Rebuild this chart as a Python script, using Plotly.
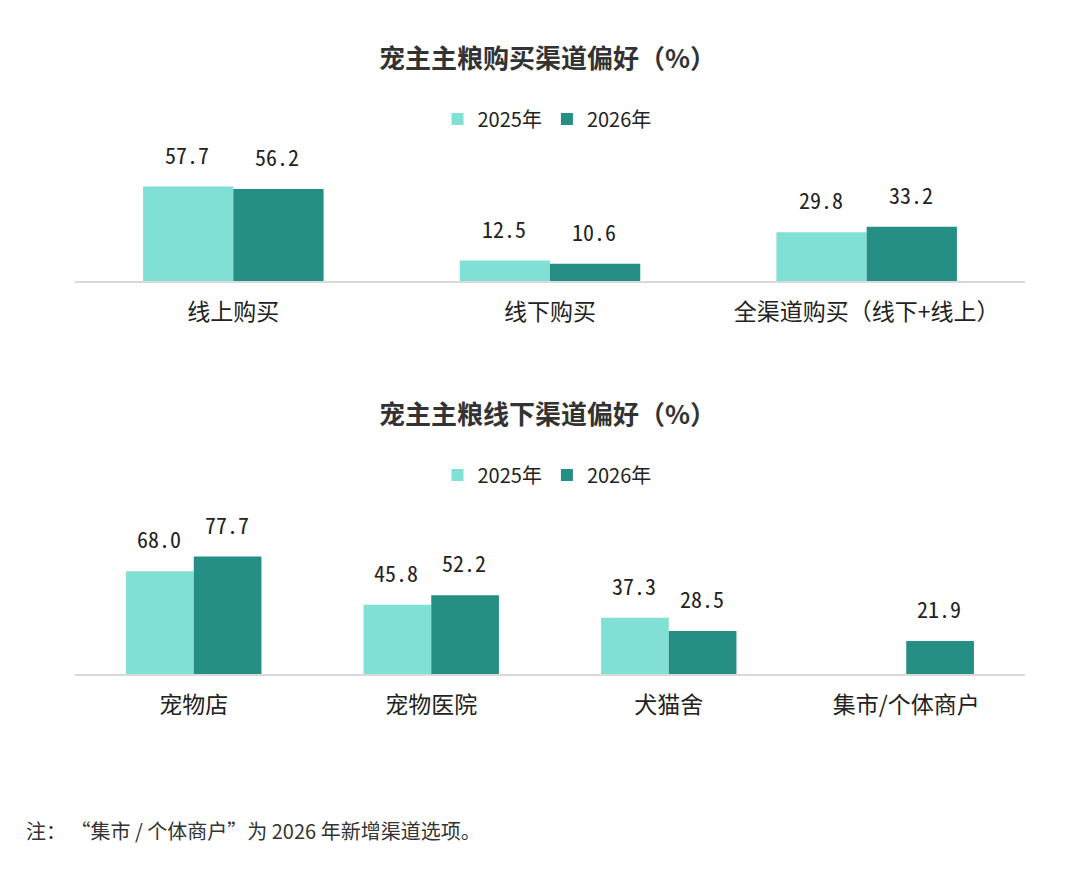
import plotly.graph_objects as go

# data
cats_top = ["线上购买", "线下购买", "全渠道购买（线下+线上）"]
top_2025 = [57.7, 12.5, 29.8]
top_2026 = [56.2, 10.6, 33.2]

cats_bot = ["宠物店", "宠物医院", "犬猫舍", "集市/个体商户"]
bot_2025 = [68.0, 45.8, 37.3, None]
bot_2026 = [77.7, 52.2, 28.5, 21.9]

series_names = ["2025年", "2026年"]
colors = ["#80E0D6", "#258F86"]
font = "Noto Sans CJK SC"
num_font = "Noto Sans Mono CJK SC, DejaVu Sans Mono, monospace"

# page has an 8px body margin, so the figure is 16px smaller and offsets shift by 8
W, H = 1064, 854
OFF = 8


def px_y(y):
    return 1 - (y - OFF) / H


def px_x(x):
    return (x - OFF) / W


fig = go.Figure()

# top chart
for i, vals in enumerate([top_2025, top_2026]):
    fig.add_trace(go.Bar(x=cats_top, y=vals, name=series_names[i],
                         marker=dict(color=colors[i], line=dict(width=0)),
                         xaxis="x", yaxis="y", legend="legend"))
# bottom chart
for i, vals in enumerate([bot_2025, bot_2026]):
    fig.add_trace(go.Bar(x=cats_bot, y=vals, name=series_names[i],
                         marker=dict(color=colors[i], line=dict(width=0)),
                         xaxis="x2", yaxis="y2", legend="legend2"))

annos = []
# value labels
for vals, shift in [(top_2025, -46), (top_2026, 44)]:
    for c, v in zip(cats_top, vals):
        annos.append(dict(x=c, y=v, xref="x", yref="y", text=f"{v:.1f}",
                          showarrow=False, xshift=shift, yshift=15, yanchor="bottom",
                          font=dict(family=num_font, size=22, color="#222")))
for vals, shift in [(bot_2025, -35), (bot_2026, 33)]:
    for c, v in zip(cats_bot, vals):
        if v is None:
            continue
        annos.append(dict(x=c, y=v, xref="x2", yref="y2", text=f"{v:.1f}",
                          showarrow=False, xshift=shift, yshift=15, yanchor="bottom",
                          font=dict(family=num_font, size=22, color="#222")))

# titles and note
annos.append(dict(x=0.5 + 7 / W, y=px_y(57), xref="paper", yref="paper", yanchor="middle",
                  text="<b>宠主主粮购买渠道偏好（%）</b>", showarrow=False,
                  font=dict(family=font, size=26, color="#333")))
annos.append(dict(x=0.5 + 7 / W, y=px_y(412), xref="paper", yref="paper", yanchor="middle",
                  text="<b>宠主主粮线下渠道偏好（%）</b>", showarrow=False,
                  font=dict(family=font, size=26, color="#333")))
annos.append(dict(x=px_x(24), y=px_y(830), xref="paper", yref="paper", yanchor="middle",
                  text="注： “集市 / 个体商户”为 2026 年新增渠道选项。", showarrow=False,
                  xanchor="left", font=dict(family=font, size=20, color="#333")))

axis_common = dict(showline=True, linecolor="#d9d9d9", linewidth=2,
                   tickfont=dict(family=font, size=23, color="#222"),
                   ticks="outside", ticklen=9, tickcolor="rgba(0,0,0,0)",
                   showgrid=False, zeroline=False, fixedrange=True)

fig.update_layout(
    width=W, height=H,
    margin=dict(l=0, r=0, t=0, b=0),
    paper_bgcolor="white", plot_bgcolor="white",
    barmode="group", bargap=0.43, bargroupgap=0,
    xaxis=dict(domain=[px_x(75), px_x(1025)], anchor="y", **axis_common),
    yaxis=dict(domain=[px_y(281), px_y(150)], range=[0, 80], visible=False),
    xaxis2=dict(domain=[px_x(75), px_x(1025)], anchor="y2", **axis_common),
    yaxis2=dict(domain=[px_y(674), px_y(540)], range=[0, 88.7], visible=False),
    legend=dict(orientation="h", x=0.5 + 7 / W, xanchor="center", y=px_y(119), yanchor="middle",
                font=dict(family=font, size=20, color="#222"), itemwidth=30),
    legend2=dict(orientation="h", x=0.5 + 7 / W, xanchor="center", y=px_y(475), yanchor="middle",
                 font=dict(family=font, size=20, color="#222"), itemwidth=30),
    annotations=annos,
    font=dict(family=font),
)

fig.write_html("out.html")
